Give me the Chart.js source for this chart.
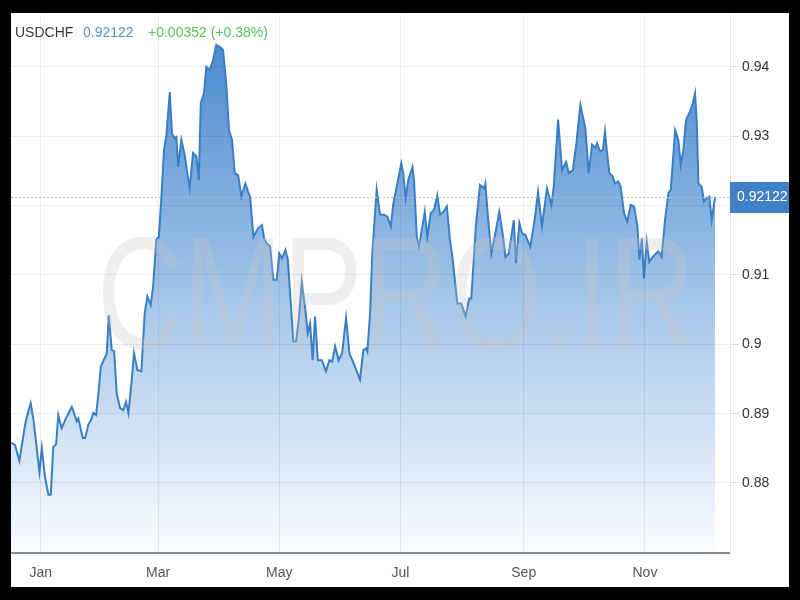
<!DOCTYPE html>
<html>
<head>
<meta charset="utf-8">
<title>USDCHF</title>
<script src="https://cdn.jsdelivr.net/npm/chart.js@4.4.0/dist/chart.umd.min.js"></script>
<style>
  html, body { margin: 0; padding: 0; background: #000; }
  #frame { position: absolute; left: 11px; top: 13px; width: 778px; height: 574px; background: #fff; overflow: hidden; }
  #chartCanvas { position: absolute; left: 0; top: 0; }
  .hdr { position: absolute; top: 11px; line-height: 16px; font: 14px "Liberation Sans", Arial, sans-serif; white-space: nowrap; z-index: 2; }
  #sym { left: 4px; color: #3a3a3a; }
  #last { left: 72px; color: #5b8fc8; }
  #chg { left: 137px; color: #56c156; }
</style>
</head>
<body>
<div id="frame">
  <canvas id="chartCanvas" width="778" height="574"></canvas>
  <span class="hdr" id="sym"></span>
  <span class="hdr" id="last"></span>
  <span class="hdr" id="chg"></span>
</div>
<script>
// --- data (x = day of year, 0 = 1 Jan) ---
const symbol = "USDCHF";
const lastPrice = 0.92122;
const changeText = "+0.00352 (+0.38%)";

const days = [
  -15, -13, -10.8, -7.9, -6.8, -5.1, -3.7, -0.7, 0.5, 2.1,
  3.8, 5.0, 6.3, 7.7, 8.8, 10.5, 13.1, 15.6, 18.1, 18.9,
  21.1, 22.3, 23.9, 25.6, 26.4, 27.8, 29.0, 30.2, 33.2, 34.2,
  35.7, 36.9, 38.2, 39.9, 41.5, 42.9, 44.1,
  45.6, 46.9, 48.6, 50.6, 52.3, 53.6, 55.3, 56.5, 58.1, 59.4,
  60.7, 62.0, 63.2, 64.9, 66.0, 67.4, 68.2, 69.1, 70.7, 72.4,
  73.7, 74.9, 76.6, 78.3, 79.5, 80.5, 82.1, 83.3, 85.0, 86.7,
  88.3, 90.0, 91.7, 93.4, 94.7, 96.2, 97.6, 99.3, 100.9, 102.9,
  104.3,
  105.3, 107.0, 109.2, 111.3, 112.5, 113.7, 115.4, 117.0, 118.7, 120.0,
  121.4, 123.1, 124.3, 125.9, 127.1, 128.4, 129.8, 131.3, 133.1, 134.3,
  135.5, 136.8, 138.0, 139.4, 141.5, 143.5, 145.2, 146.6, 148.1, 149.9,
  151.6, 153.6, 155.3, 157.8, 160.6, 162.3, 163.7,
  164.3, 165.7, 166.8, 169.0, 170.7, 172.7, 174.4, 176.1, 177.4, 179.4,
  181.4, 182.4, 183.6, 184.9, 187.0, 187.8, 189.2, 190.3, 192.0, 193.2,
  194.5, 196.2, 197.9, 199.5, 200.9, 202.6, 204.3, 205.9, 207.1, 209.6,
  211.6, 213.8, 215.5, 216.6, 218.9, 221.0, 223.1,
  223.7, 225.0, 226.7, 228.7, 230.7, 232.4, 233.8, 235.5, 238.0, 239.1,
  240.8, 242.2, 243.8, 246.3, 248.5, 250.2, 252.2, 254.7, 256.9, 258.1,
  260.3, 262.3, 264.3, 265.7, 267.7, 269.5, 271.5, 274.0, 275.7, 277.4,
  279.0, 279.9, 281.5,
  282.8, 283.9, 284.8, 286.1, 287.8, 288.9, 290.6, 291.8, 293.5, 295.1,
  296.8, 298.5, 300.2, 301.2, 302.5, 303.5, 304.9, 306.2, 307.9, 309.6,
  310.7, 312.4, 314.1, 315.8, 317.0, 319.2, 320.8, 322.0, 323.3, 324.7,
  326.7, 328.1, 329.2, 330.1, 330.9, 332.6, 333.7, 335.1, 336.4, 337.6,
  339.3
];

const prices = [
  0.8858, 0.8855, 0.8832, 0.8884, 0.8898, 0.8915, 0.8891, 0.8816, 0.8850, 0.8809,
  0.8783, 0.8783, 0.8852, 0.8856, 0.8898, 0.8879, 0.8896, 0.8910, 0.8889, 0.8893,
  0.8865, 0.8865, 0.8884, 0.8893, 0.8901, 0.8898, 0.8929, 0.8968, 0.8987, 0.9042,
  0.8992, 0.8990, 0.8929, 0.8908, 0.8905, 0.8917, 0.8901,
  0.8944, 0.8987, 0.8963, 0.8961, 0.9045, 0.9069, 0.9057, 0.9083, 0.9151, 0.9155,
  0.9213, 0.9280, 0.9302, 0.9364, 0.9304, 0.9297, 0.9299, 0.9256, 0.9295, 0.9273,
  0.9247, 0.9225, 0.9276, 0.9271, 0.9237, 0.9348, 0.9362, 0.9400, 0.9396, 0.9410,
  0.9432, 0.9429, 0.9425, 0.9372, 0.9309, 0.9295, 0.9247, 0.9244, 0.9213, 0.9232,
  0.9220,
  0.9213, 0.9155, 0.9167, 0.9172, 0.9151, 0.9146, 0.9141, 0.9093, 0.9093, 0.9131,
  0.9124, 0.9136, 0.9122, 0.9054, 0.9004, 0.9004, 0.9035, 0.9090, 0.9050, 0.9016,
  0.9030, 0.8977, 0.9040, 0.8977, 0.8977, 0.8961, 0.8977, 0.8975, 0.8997, 0.8977,
  0.8987, 0.9038, 0.8987, 0.8970, 0.8949, 0.8992, 0.8994,
  0.8990, 0.9045, 0.9131, 0.9223, 0.9187, 0.9187, 0.9184, 0.9170, 0.9203, 0.9232,
  0.9261, 0.9247, 0.9211, 0.9237, 0.9256, 0.9237, 0.9155, 0.9141, 0.9170, 0.9191,
  0.9155, 0.9189, 0.9194, 0.9215, 0.9187, 0.9191, 0.9199, 0.9151, 0.9126, 0.9059,
  0.9059, 0.9040, 0.9066, 0.9066, 0.9170, 0.9230, 0.9225,
  0.9232, 0.9184, 0.9131, 0.9160, 0.9191, 0.9160, 0.9126, 0.9131, 0.9179, 0.9117,
  0.9175, 0.9160, 0.9158, 0.9141, 0.9179, 0.9220, 0.9170, 0.9225, 0.9201, 0.9227,
  0.9324, 0.9251, 0.9263, 0.9247, 0.9251, 0.9290, 0.9345, 0.9312, 0.9247, 0.9288,
  0.9283, 0.9290, 0.9278,
  0.9280, 0.9307, 0.9280, 0.9247, 0.9242, 0.9232, 0.9235, 0.9227, 0.9189, 0.9177,
  0.9201, 0.9199, 0.9170, 0.9122, 0.9153, 0.9095, 0.9148, 0.9119, 0.9126, 0.9131,
  0.9134, 0.9126, 0.9179, 0.9218, 0.9223, 0.9309, 0.9295, 0.9259, 0.9280, 0.9324,
  0.9336, 0.9348, 0.9362, 0.9319, 0.9232, 0.9227, 0.9206, 0.9211, 0.9213, 0.9179,
  0.92122
];

const monthDays = [0, 59, 120, 181, 243, 304];
const monthLabels = ["Jan", "Mar", "May", "Jul", "Sep", "Nov"];
const yTicks = [0.88, 0.89, 0.90, 0.91, 0.92, 0.93, 0.94];

// --- header text ---
document.getElementById("sym").textContent = symbol;
document.getElementById("last").textContent = lastPrice.toFixed(5);
document.getElementById("chg").textContent = changeText;

const FONT = '"Liberation Sans", Arial, sans-serif';
const LINE = "#3a7fc5";
const GRID = "rgba(0,0,0,0.07)";

Chart.defaults.font.family = FONT;

const points = days.map((d, i) => ({ x: d, y: prices[i] }));

// faint site watermark across the middle
const watermark = {
  id: "watermark",
  afterDatasetsDraw(chart) {
    const ctx = chart.ctx;
    ctx.save();
    ctx.font = "160px " + FONT;
    ctx.fillStyle = "rgba(200,200,200,0.3)";
    ctx.textAlign = "center";
    ctx.textBaseline = "alphabetic";
    ctx.fillText("CMPRO.IR", 385, 335, 598);
    ctx.restore();
  }
};

// dotted last-price line + blue price tag on the axis
const priceTag = {
  id: "priceTag",
  afterDraw(chart) {
    const ctx = chart.ctx;
    const area = chart.chartArea;
    const y = Math.round(chart.scales.y.getPixelForValue(lastPrice)) + 0.5;
    ctx.save();
    ctx.strokeStyle = "#a7bdd6";
    ctx.lineWidth = 1;
    ctx.setLineDash([2, 2]);
    ctx.beginPath();
    ctx.moveTo(area.left, y);
    ctx.lineTo(area.right, y);
    ctx.stroke();
    ctx.setLineDash([]);
    ctx.fillStyle = "#3f80c6";
    ctx.fillRect(area.right, y - 15.5, chart.width - area.right, 31);
    ctx.fillStyle = "#fff";
    ctx.font = "14px " + FONT;
    ctx.textBaseline = "middle";
    ctx.textAlign = "left";
    ctx.fillText(lastPrice.toFixed(5), area.right + 7, y);
    ctx.restore();
  }
};

function areaGradient(context) {
  const chart = context.chart;
  const a = chart.chartArea;
  if (!a) return "rgba(70,135,205,0.5)";
  const g = chart.ctx.createLinearGradient(0, a.top, 0, a.bottom);
  g.addColorStop(0, "rgb(66,132,204)");
  g.addColorStop(0.55, "rgb(168,200,234)");
  g.addColorStop(1, "rgb(250,252,254)");
  return g;
}

const canvas = document.getElementById("chartCanvas");

new Chart(canvas, {
  type: "line",
  data: {
    datasets: [{
      label: symbol,
      data: points,
      borderColor: LINE,
      borderWidth: 2,
      pointRadius: 0,
      tension: 0,
      fill: "start",
      backgroundColor: areaGradient
    }]
  },
  options: {
    responsive: false,
    animation: false,
    layout: { padding: { top: 2, left: 0, right: 0, bottom: 0 } },
    plugins: {
      legend: { display: false },
      tooltip: { enabled: false }
    },
    scales: {
      x: {
        type: "linear",
        min: -15,
        max: 346.8,
        afterBuildTicks: s => { s.ticks = monthDays.map(v => ({ value: v })); },
        afterFit: s => { s.height = 34; s.paddingLeft = 0; s.paddingRight = 0; },
        ticks: {
          callback: v => monthLabels[monthDays.indexOf(v)],
          color: "#555",
          font: { size: 14 },
          padding: 12,
          maxRotation: 0,
          autoSkip: false
        },
        grid: { color: GRID, drawTicks: false, z: 1 },
        border: { color: "#8c8c8c", width: 2, z: 1 }
      },
      y: {
        position: "right",
        min: 0.8699,
        max: 0.9475,
        afterBuildTicks: s => { s.ticks = yTicks.map(v => ({ value: v })); },
        afterFit: s => { s.width = 59; s.paddingTop = 0; s.paddingBottom = 0; },
        ticks: {
          callback: v => String(Number(v.toFixed(2))),
          color: "#333",
          font: { size: 14 },
          padding: 2
        },
        grid: { color: GRID, tickColor: "#dcdcdc", tickLength: 10, z: 1 },
        border: { color: "#e4e4e4", width: 1, z: 1 }
      }
    }
  },
  plugins: [watermark, priceTag]
});
</script>
</body>
</html>
